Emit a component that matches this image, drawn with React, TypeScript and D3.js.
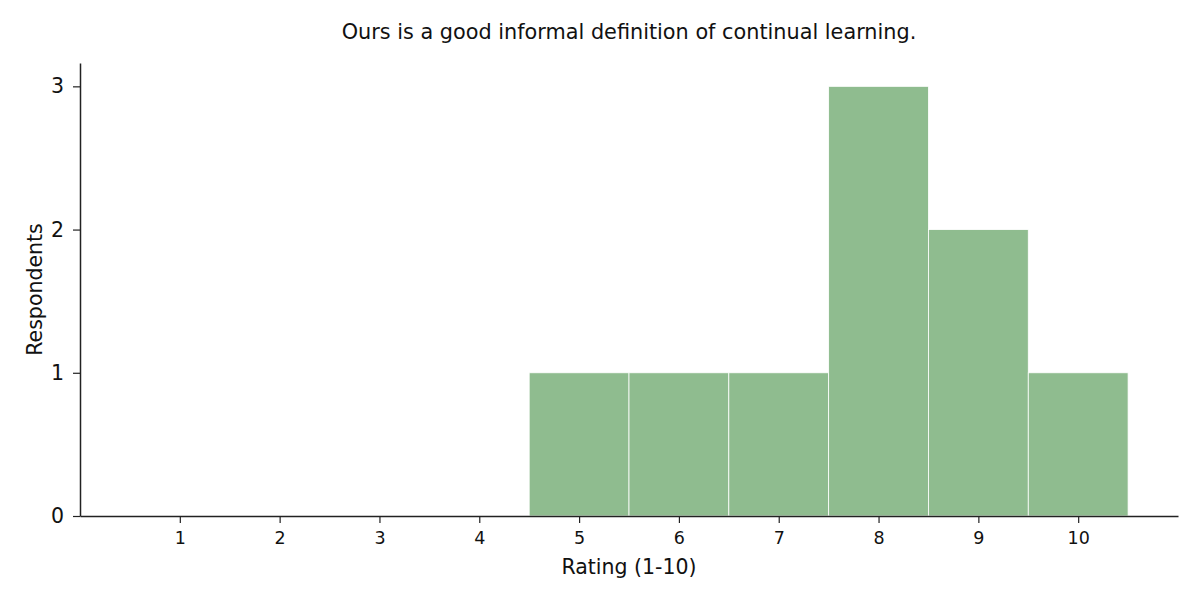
import { useEffect, useRef } from "react";
import * as d3 from "d3";

const ratings = [1, 2, 3, 4, 5, 6, 7, 8, 9, 10];
const respondents = [0, 0, 0, 0, 1, 1, 1, 3, 2, 1];
const yTicks = [0, 1, 2, 3];
const title = "Ours is a good informal definition of continual learning.";
const xLabel = "Rating (1-10)";
const yLabel = "Respondents";

export default function App() {
  const svgRef = useRef<SVGSVGElement | null>(null);

  useEffect(() => {
    document.body.style.margin = "0";
    const svgElement = svgRef.current;
    if (!svgElement) return;

    const width = 1200;
    const height = 600;
    const margin = { top: 63, right: 22, bottom: 84, left: 80 };
    const chartWidth = width - margin.left - margin.right;
    const chartHeight = height - margin.top - margin.bottom;
    const font = "'DejaVu Sans', sans-serif";

    const x = d3.scaleLinear().domain([0, 11]).range([0, chartWidth]);
    const y = d3.scaleLinear().domain([0, 3.163]).range([chartHeight, 0]);

    const svg = d3.select(svgElement);
    svg.selectAll("*").remove();

    const chart = svg.append("g").attr("transform", `translate(${margin.left}, ${margin.top})`);

    chart
      .selectAll("rect")
      .data(ratings.map((r, i) => ({ r, v: respondents[i] })).filter((d) => d.v > 0))
      .join("rect")
      .attr("x", (d) => x(d.r - 0.5))
      .attr("y", (d) => y(d.v))
      .attr("width", x(1) - x(0))
      .attr("height", (d) => y(0) - y(d.v))
      .attr("fill", "#8fbc8f")
      .attr("stroke", "#ffffff")
      .attr("stroke-width", 0.8);

    const xAxis = chart
      .append("g")
      .attr("transform", `translate(0, ${chartHeight})`)
      .call(d3.axisBottom(x).tickValues(ratings).tickSize(7).tickPadding(8.5).tickSizeOuter(0));
    xAxis.select(".domain").attr("stroke", "#222").attr("stroke-width", 1.5);
    xAxis.selectAll(".tick line").attr("stroke", "#222").attr("stroke-width", 1.2);
    xAxis.selectAll("text").attr("font-size", 17.5).attr("font-family", font).attr("fill", "#111");

    const yAxis = chart
      .append("g")
      .call(
        d3
          .axisLeft(y)
          .tickValues(yTicks)
          .tickFormat(d3.format("d"))
          .tickSize(7)
          .tickPadding(9)
          .tickSizeOuter(0)
      );
    yAxis.select(".domain").attr("stroke", "#222").attr("stroke-width", 1.5);
    yAxis.selectAll(".tick line").attr("stroke", "#222").attr("stroke-width", 1.2);
    yAxis.selectAll("text").attr("font-size", 20.5).attr("font-family", font).attr("fill", "#111");

    svg
      .append("text")
      .attr("x", margin.left + chartWidth / 2)
      .attr("y", 39)
      .attr("text-anchor", "middle")
      .attr("font-size", 20.8)
      .attr("font-family", font)
      .attr("fill", "#111")
      .text(title);

    svg
      .append("text")
      .attr("x", margin.left + chartWidth / 2)
      .attr("y", 574)
      .attr("text-anchor", "middle")
      .attr("font-size", 20.5)
      .attr("font-family", font)
      .attr("fill", "#111")
      .text(xLabel);

    svg
      .append("text")
      .attr("transform", `translate(42, ${margin.top + chartHeight / 2}) rotate(-90)`)
      .attr("text-anchor", "middle")
      .attr("font-size", 20.5)
      .attr("font-family", font)
      .attr("fill", "#111")
      .text(yLabel);
  }, []);

  return <svg ref={svgRef} width={1200} height={600} style={{ display: "block" }} />;
}
